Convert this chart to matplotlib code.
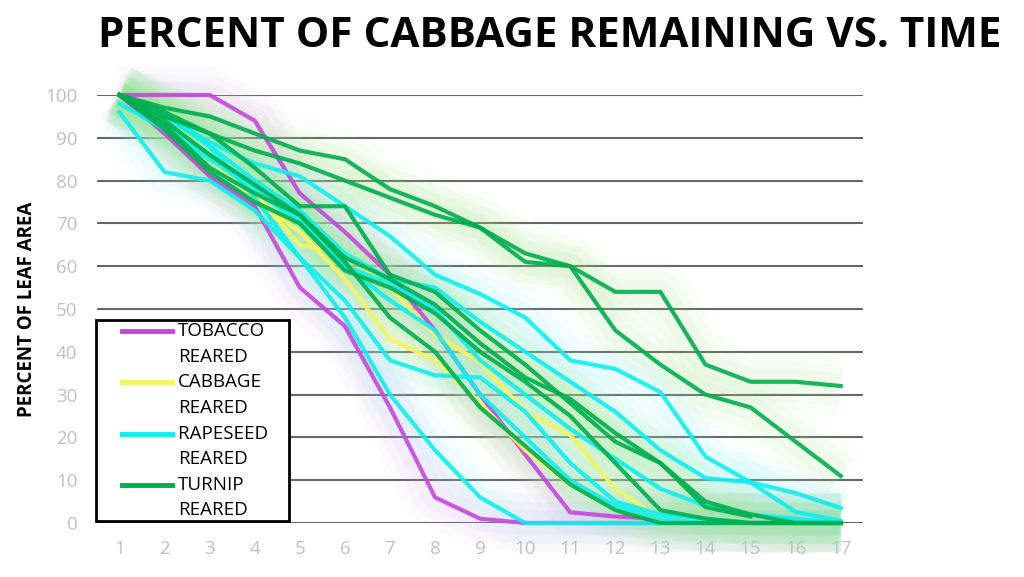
import numpy as np
import matplotlib.pyplot as plt
from matplotlib.lines import Line2D
from matplotlib.legend_handler import HandlerLine2D

plt.rcParams['font.family'] = ['Open Sans', 'DejaVu Sans']

days = list(range(1, 18))
yticks = [0, 10, 20, 30, 40, 50, 60, 70, 80, 90, 100]

# percent of leaf area remaining, one list per larva
tobacco = [
    [100, 100, 100, 94, 77, 68, 58, 45, 30, 16, 2.5, 1.5, 1, 0.5, 0, 0, 0],
    [100, 91, 81, 74, 55, 46, 27, 6, 1, 0, 0, 0, 0, 0, 0, 0, 0],
]
cabbage = [
    [100, 94, 88, 77, 65, 63, 55, 44, 37.5, 26, 20.5, 8, 1, 0.5, 0, 0, 0],
    [100, 93, 85, 76, 68, 57, 43, 38, 28, 17, 9, 3, 1, 0, 0, 0, 0],
]
rapeseed = [
    [100, 95, 89, 84, 81, 74, 67, 58, 53.5, 48, 38, 36, 30.6, 15.5, 9.5, 7, 3.5],
    [96, 82, 80, 73, 62, 52, 38, 34.5, 34, 26, 14, 5, 2, 1, 0, 0, 0],
    [100, 96, 88, 76, 62, 48, 30, 17, 6, 0, 0, 0, 0, 0, 0, 0, 0],
    [100, 95, 88, 80, 73, 63, 57, 55, 47, 40, 33, 26, 17, 10.5, 9.5, 2.6, 0.5],
    [98, 92, 85, 78, 70, 60, 56, 50, 38, 30, 22, 15, 8, 4, 2, 1, 0],
    [100, 93, 86, 79, 71, 60, 52, 45, 30, 20, 10, 4, 1, 0, 0, 0, 0],
]
turnip = [
    [100, 97, 95, 91, 87, 85, 78, 74, 69, 63, 60, 54, 54, 37, 33, 33, 32],
    [100, 96, 91, 87, 84, 80, 76, 72, 69, 61, 60, 45, 37, 30, 27, 19, 11],
    [100, 95, 91, 83, 74, 74, 58, 54, 45, 37, 28, 19, 14, 3.7, 1.5, np.nan, np.nan],
    [100, 93, 83, 77, 72, 61, 48, 40, 27, 18, 9, 3, 0, 0, 0, 0, 0],
    [100, 94, 86, 79, 72, 62, 57, 51, 42, 34, 29, 21, 14, 5, 2, 0, 0],
    [100, 92, 82, 75, 70, 59, 55, 49, 40, 33, 25, 14, 3, 1, 0, 0, 0],
]

groups = [
    ("TOBACCO\nREARED", tobacco, "#C846DE", "#D89CF0"),
    ("CABBAGE\nREARED", cabbage, "#F6F55E", "#E2F080"),
    ("RAPESEED    \nREARED", rapeseed, "#0EEFEF", "#8CF0F0"),
    ("TURNIP\nREARED", turnip, "#00AE4E", "#A0E884"),
]


class FirstLineHandler(HandlerLine2D):
    # line sits beside the first text line, with a gap on its left
    def create_artists(self, legend, orig_handle, xdescent, ydescent,
                       width, height, fontsize, trans):
        arts = super().create_artists(legend, orig_handle, xdescent, ydescent,
                                      width, height, fontsize, trans)
        for a in arts:
            xd = np.array(a.get_xdata(), dtype=float)
            if len(xd) > 1:
                xd[0] += 1.3 * fontsize
                a.set_xdata(xd)
            a.set_ydata(np.asarray(a.get_ydata()) + 0.7 * fontsize)
        return arts


fig = plt.figure(figsize=(10.24, 5.77), dpi=100)
ax = fig.add_axes([0.0947, 0.0936, 0.7483, 0.7418])

# soft glow under the lines
for label, series, col, glow in groups:
    for vals in series:
        for lw, a in [(42, 0.045), (30, 0.055), (18, 0.07)]:
            ax.plot(days, vals, color=glow, lw=lw, alpha=a,
                    solid_capstyle="butt", solid_joinstyle="round",
                    clip_on=False, zorder=2)

for label, series, col, glow in groups:
    for vals in series:
        ax.plot(days, vals, color=col, lw=3, alpha=0.9,
                solid_joinstyle="round", clip_on=False, zorder=3)

ax.set_xlim(0.5, 17.5)
ax.set_ylim(0, 100)
ax.set_xticks(days)
ax.set_yticks(yticks)
ax.tick_params(length=0, labelsize=13.5, labelcolor="#C0C0C0")
ax.tick_params(axis="y", pad=14)
ax.tick_params(axis="x", pad=12)
for s in ax.spines.values():
    s.set_visible(False)
ax.grid(axis="y", color="#666666", lw=1.5, zorder=1)
ax.set_axisbelow(True)

ax.set_ylabel("PERCENT OF LEAF AREA", fontsize=13.5, fontweight="bold", labelpad=6)

handles = [Line2D([], [], color=g[2], lw=3.5) for g in groups]
leg = ax.legend(handles, [g[0] for g in groups], loc="lower left",
                bbox_to_anchor=(-0.001, 0.004), borderaxespad=0,
                fontsize=13.5, frameon=True,
                fancybox=False, edgecolor="black", framealpha=1,
                handlelength=3.95, handletextpad=0.3, labelspacing=0.4,
                borderpad=0.1, handler_map={Line2D: FirstLineHandler()})
for t in leg.get_texts():
    t.set_linespacing(1.55)
leg.get_frame().set_linewidth(2)
leg.set_zorder(10)

fig.text(0.537, 0.936, "PERCENT OF CABBAGE REMAINING VS. TIME",
         ha="center", va="center", fontsize=30.3, fontweight="bold")

fig.savefig("out.png", dpi=100)
